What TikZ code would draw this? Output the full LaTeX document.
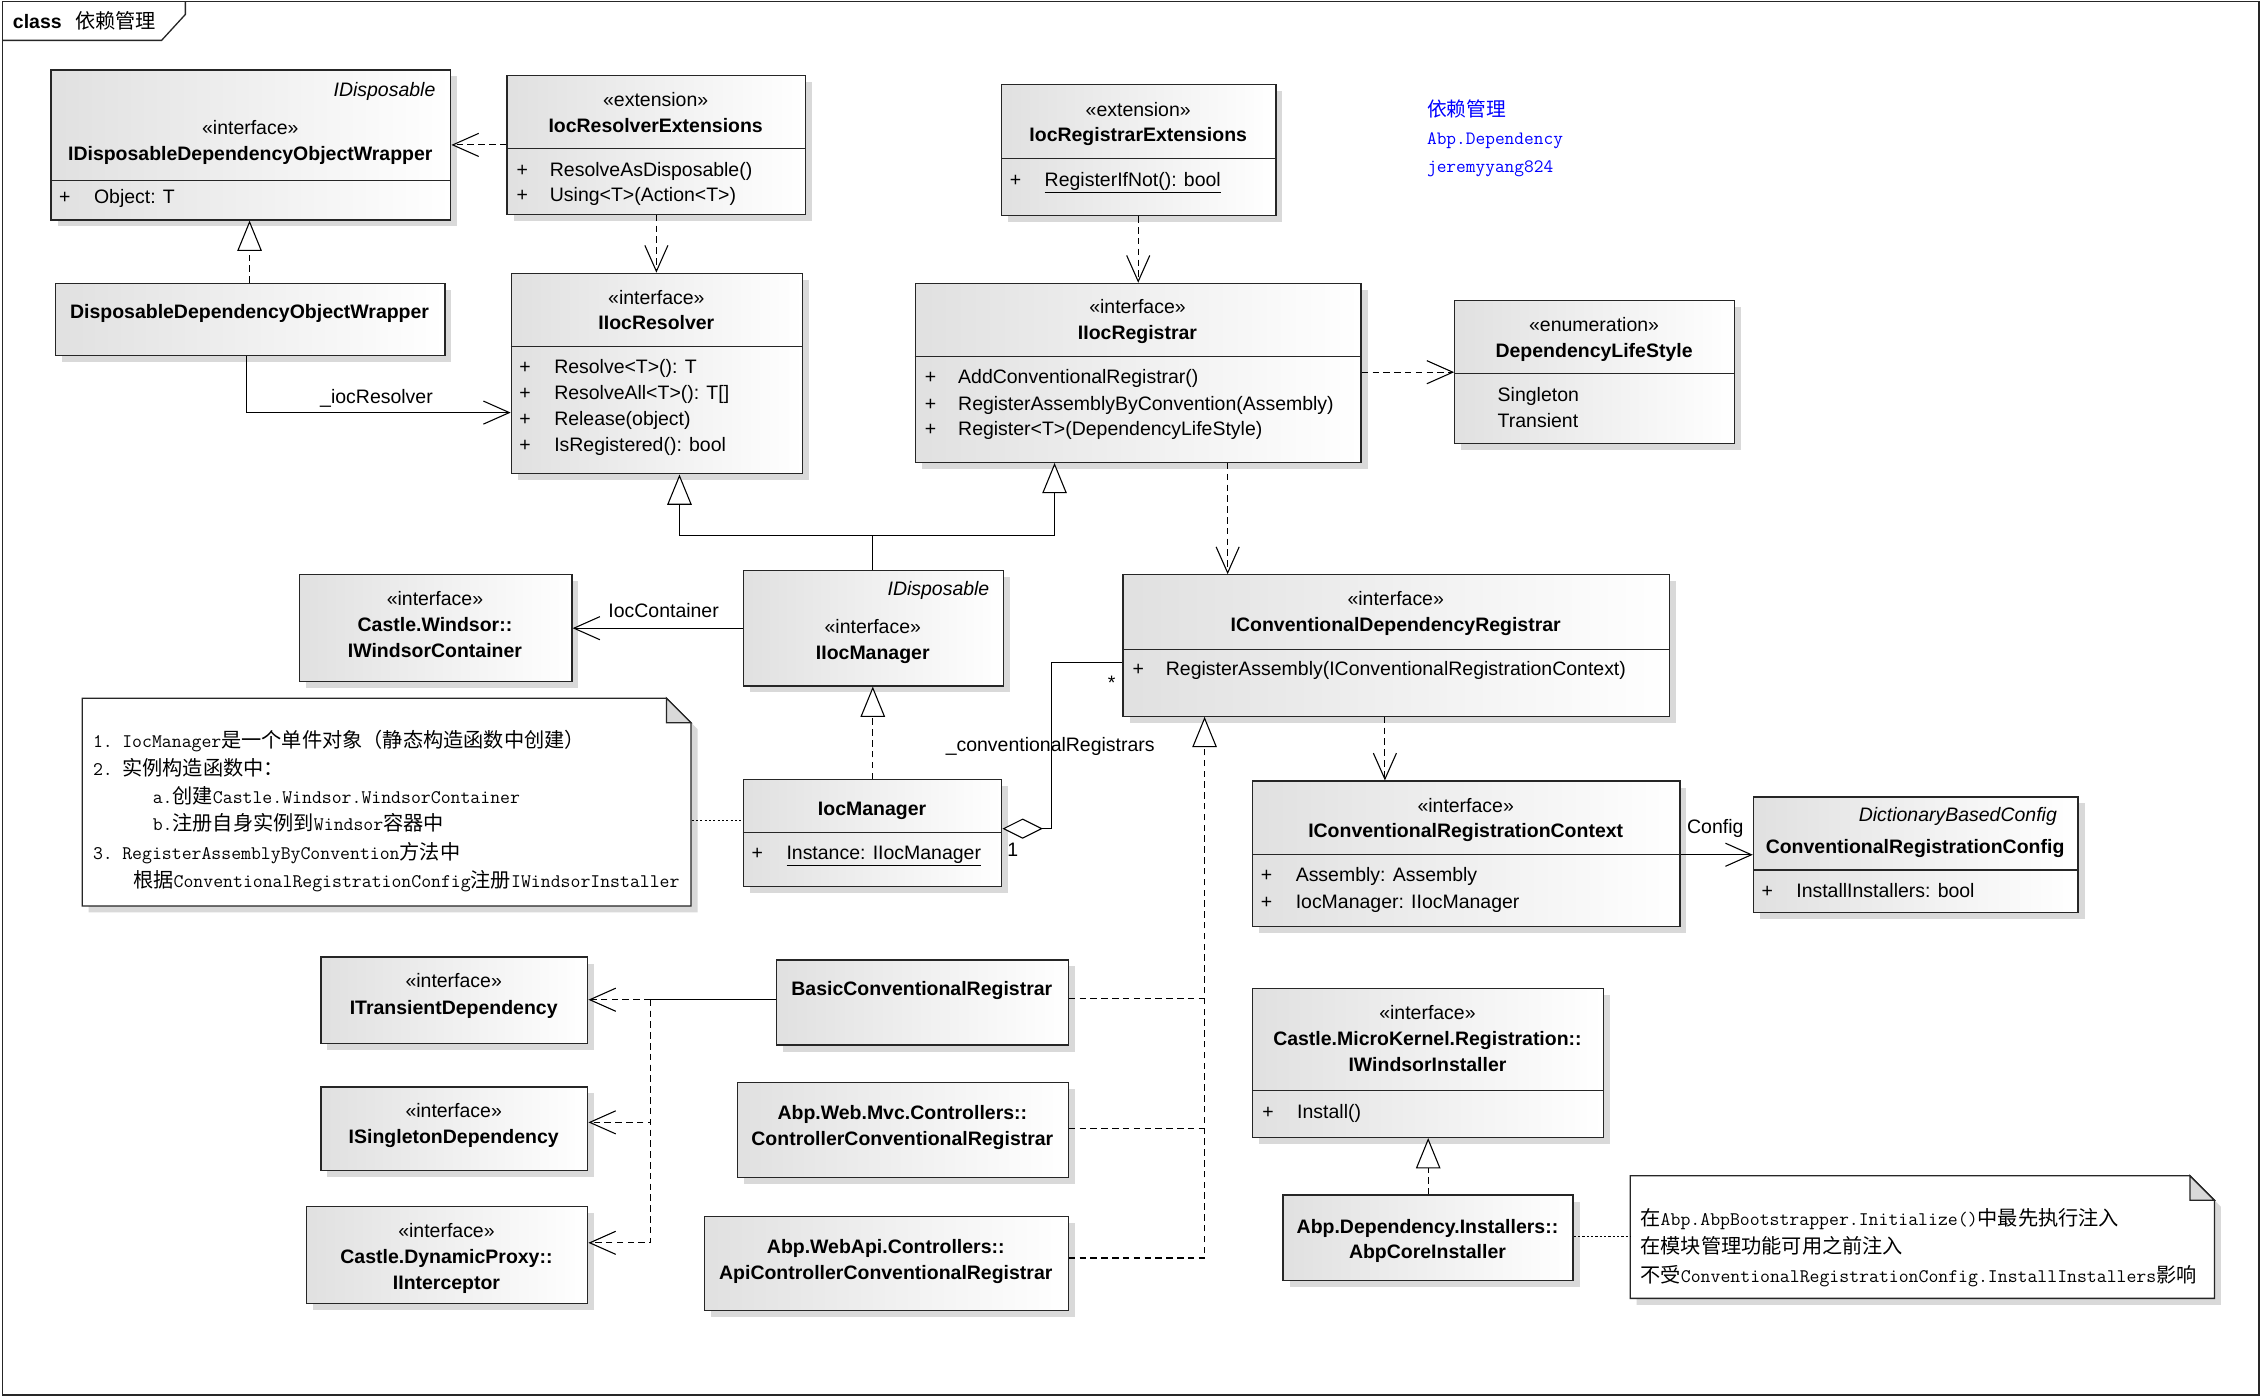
\documentclass[tikz,border=0pt]{standalone}
\usepackage{fontspec}
\setmainfont{Liberation Sans}
\newfontfamily\cjk{Noto Sans CJK SC}
\usetikzlibrary{arrows.meta,shadows}
\newcommand\fsz{\fontsize{13.5}{16}\selectfont}
\newcommand\nlat[1]{{\ttfamily\fontsize{13.33}{15}\selectfont #1}}
\newcommand\ncjk[1]{{\cjk\fontsize{14}{16}\selectfont #1}}
\newcommand\blat[1]{{\ttfamily\fontsize{13.07}{15}\selectfont #1}}
\newcommand\bcjk[1]{{\cjk\fontsize{13.7}{16}\selectfont #1}}
\newcounter{txtn}
\newcommand\ttx[4][]{\stepcounter{txtn}\node[txt,#1] (txt\arabic{txtn}) at (#2,#3) {#4};}
\newcommand\stereo[3]{\ttx{#1}{#2}{«#3»}}
\newcommand\cname[3]{\ttx[bld]{#1}{#2}{#3}}
\newcommand\oper[4]{\ttx{#1}{#4}{+}\ttx[lft]{#2}{#4}{#3}}
\newcommand\cbox[5]{\node[cbox,minimum width=#4pt,minimum height=#5pt] (#1) at (#2,#3) {};}
\newcommand\divider[2]{\draw[boxln] (#1.west |- 0,#2) -- (#1.east |- 0,#2);}
\begin{document}
\begin{tikzpicture}[x=1pt,y=-1pt,
 txt/.style={anchor=base,inner sep=0pt,font=\fsz},
 bld/.style={font=\fsz\bfseries},
 lft/.style={anchor=base west},
 rgt/.style={anchor=base east,font=\fsz\itshape},
 boxln/.style={draw=black!85,line width=0.9pt},
 cbox/.style={boxln,anchor=north west,inner sep=0pt,left color=black!12,right color=white,
   drop shadow={shadow xshift=4.5pt,shadow yshift=-4.5pt,fill=black!15,opacity=1}},
 con/.style={draw=black,line width=0.75pt},
 dsh/.style={con,dash pattern=on 4.5pt off 3pt},
 dotl/.style={con,dash pattern=on 1.5pt off 1.5pt},
 opn/.style={-{Straight Barb[length=18pt,width=16pt]}},
 tri/.style={-{Triangle[open,length=21pt,width=17pt,fill=white]}},
 dia/.style={{Diamond[open,length=28pt,width=14pt,fill=white]}-},
]
\useasboundingbox (0,0) rectangle (1568,969);
\fill[white] (0,0) rectangle (1568,969);
% frame
\draw[boxln] (1.5,1) rectangle (1566,967);
\draw[boxln] (1.5,28) -- (112,28) -- (128.5,10) -- (128.5,1);
\node[anchor=base west,inner sep=0pt,font=\fsz\bfseries] (title1) at (8.8,19.5) {class};
\node[anchor=base west,inner sep=0pt] (title2) at (52,19.5) {\ncjk{依赖管理}};

% blue text
\node[anchor=base west,inner sep=0pt,text=blue] (blue1) at (989,81) {\bcjk{依赖管理}};
\node[anchor=base west,inner sep=0pt,text=blue] (blue2) at (989,100.5) {\blat{Abp.Dependency}};
\node[anchor=base west,inner sep=0pt,text=blue] (blue3) at (989,119.5) {\blat{jeremyyang824}};

% boxes
\cbox{A}{35}{48}{277}{104}
\cbox{B}{351}{52}{207}{96}
\cbox{C}{694}{58}{190}{91}
\cbox{D}{634}{196}{309}{124}
\cbox{E}{1008}{208}{194}{99}
\cbox{F}{38}{196}{270}{50}
\cbox{G}{354}{189}{202}{139}
\cbox{H}{207}{398}{189}{74}
\cbox{I}{515}{395}{180}{80}
\cbox{J}{515}{540}{179}{74}
\cbox{K}{778}{398}{379}{98}
\cbox{L}{868}{541}{296}{101}
\cbox{M}{1215}{552}{225}{80}
\cbox{N}{222}{663}{185}{60}
\cbox{O}{222}{753}{185}{58}
\cbox{P}{212}{836}{195}{67}
\cbox{Q}{538}{665}{202}{59}
\cbox{R}{511}{750}{229}{66}
\cbox{S}{488}{843}{252}{65}
\cbox{T}{868}{685}{243}{103}
\cbox{U}{889}{828}{201}{59}
\divider{A}{125}
\divider{B}{103}
\divider{C}{110}
\divider{D}{247}
\divider{E}{259}
\divider{G}{240}
\divider{J}{577}
\divider{K}{450}
\divider{L}{592.5}
\divider{M}{603}
\divider{T}{756}

% notes
\fill[black!15] (61.5,488.5) -- (466.5,488.5) -- (483.5,505.5) -- (483.5,632.5) -- (61.5,632.5) -- cycle;
\filldraw[boxln,fill=white] (57,484) -- (462,484) -- (479,501) -- (479,628) -- (57,628) -- cycle;
\filldraw[boxln,fill=black!15] (462,484) -- (462,501) -- (479,501) -- cycle;
\node[inner sep=0pt,minimum width=422pt,minimum height=144pt,anchor=north west] (note1) at (57,484) {};
\fill[black!15] (1134.5,819.5) -- (1522.5,819.5) -- (1539.5,836.5) -- (1539.5,904.5) -- (1134.5,904.5) -- cycle;
\filldraw[boxln,fill=white] (1130,815) -- (1518,815) -- (1535,832) -- (1535,900) -- (1130,900) -- cycle;
\filldraw[boxln,fill=black!15] (1518,815) -- (1518,832) -- (1535,832) -- cycle;
\node[inner sep=0pt,minimum width=405pt,minimum height=85pt,anchor=north west] (note2) at (1130,815) {};

% connectors
\draw[dsh,opn] (B.west) -- (A.east);
\draw[dsh,tri] (173,0 |- F.north) -- (173,0 |- A.south);
\draw[con,opn] (171,0 |- F.south) |- (G.west |- 0,286);
\draw[dsh,opn] (455,0 |- B.south) -- (455,0 |- G.north);
\draw[dsh,opn] (789,0 |- C.south) -- (789,0 |- D.north);
\draw[dsh,opn] (D.east |- 0,258) -- (E.west |- 0,258);
\coordinate (jI) at (605,371);
\draw[con,tri] (605,0 |- I.north) -- (jI) -| (471,0 |- G.south);
\draw[con,tri] (jI) -| (731,0 |- D.south);
\draw[con,opn] (I.west) -- (H.east);
\draw[dsh,tri] (605,0 |- J.north) -- (605,0 |- I.south);
\draw[con,dia] (J.east |- 0,574.4) -- (729,574.4) |- (K.west |- 0,459);
\draw[dsh,opn] (851,0 |- D.south) -- (851,0 |- K.north);
\draw[dsh,opn] (960,0 |- K.south) -- (960,0 |- L.north);
\draw[con,opn] (L.east |- 0,592.5) -- (M.west |- 0,592.5);
\coordinate (jK) at (835,872);
\draw[dsh,tri] (S.east |- jK) -- (jK) -- (835,0 |- K.south);
\draw[dsh] (Q.east |- 0,692) -- (835,692);
\draw[dsh] (R.east |- 0,782) -- (835,782);
\coordinate (jQ) at (451,693);
\draw[con] (Q.west |- jQ) -- (jQ);
\draw[dsh,opn] (jQ) -- (N.east |- jQ);
\draw[dsh,opn] (jQ) |- (O.east |- 0,778);
\draw[dsh,opn] (jQ) |- (P.east |- 0,861.5);
\draw[dsh,tri] (990,0 |- U.north) -- (990,0 |- T.south);
\draw[dotl] (U.east |- 0,857) -- (note2.west |- 0,857);
\draw[dotl] (note1.east |- 0,568.6) -- (J.west |- 0,568.6);

% connector labels
\ttx{261}{279.5}{\_iocResolver}
\ttx{460}{428}{IocContainer}
\ttx{728}{521}{\_conventionalRegistrars}
\ttx{770.5}{478}{*}
\ttx{702}{594}{1}
\ttx{1189}{578}{Config}

% box texts
\ttx[rgt]{302}{67}{IDisposable}
\stereo{173.5}{93}{interface}
\cname{173.5}{111}{IDisposableDependencyObjectWrapper}
\oper{45}{65}{Object: T}{141}

\stereo{454.5}{74}{extension}
\cname{454.5}{92}{IocResolverExtensions}
\oper{362}{381}{ResolveAsDisposable()}{122}
\oper{362}{381}{Using<T>(Action<T>)}{140}

\stereo{789}{80.5}{extension}
\cname{789}{98}{IocRegistrarExtensions}
\oper{704}{724}{\underline{RegisterIfNot(): bool}}{129}

\stereo{788.5}{217}{interface}
\cname{788.5}{235}{IIocRegistrar}
\oper{645}{664}{AddConventionalRegistrar()}{266}
\oper{645}{664}{RegisterAssemblyByConvention(Assembly)}{284.4}
\oper{645}{664}{Register<T>(DependencyLifeStyle)}{302}

\stereo{1105}{229.7}{enumeration}
\cname{1105}{247.6}{DependencyLifeStyle}
\ttx[lft]{1038}{278}{Singleton}
\ttx[lft]{1038}{296}{Transient}

\cname{173}{221}{DisposableDependencyObjectWrapper}

\stereo{455}{211}{interface}
\cname{455}{228.5}{IIocResolver}
\oper{364}{384}{Resolve<T>(): T}{258.7}
\oper{364}{384}{ResolveAll<T>(): T[]}{277}
\oper{364}{384}{Release(object)}{295}
\oper{364}{384}{IsRegistered(): bool}{313}

\stereo{301.5}{420}{interface}
\cname{301.5}{438}{Castle.Windsor::}
\cname{301.5}{456}{IWindsorContainer}

\ttx[rgt]{686}{413}{IDisposable}
\stereo{605}{439}{interface}
\cname{605}{457.4}{IIocManager}

\cname{604.5}{565.6}{IocManager}
\oper{525}{545}{\underline{Instance: IIocManager}}{595.6}

\stereo{967.5}{420}{interface}
\cname{967.5}{438}{IConventionalDependencyRegistrar}
\oper{789}{808}{RegisterAssembly(IConventionalRegistrationContext)}{468.5}

\stereo{1016}{563}{interface}
\cname{1016}{580.6}{IConventionalRegistrationContext}
\oper{878}{898}{Assembly: Assembly}{611}
\oper{878}{898}{IocManager: IIocManager}{629.6}

\ttx[rgt]{1426}{569.5}{DictionaryBasedConfig}
\cname{1327.5}{591.7}{ConventionalRegistrationConfig}
\oper{1225}{1245}{InstallInstallers: bool}{622.2}

\stereo{314.5}{684.6}{interface}
\cname{314.5}{703}{ITransientDependency}

\stereo{314.5}{774.7}{interface}
\cname{314.5}{792.7}{ISingletonDependency}

\stereo{309.5}{858}{interface}
\cname{309.5}{876}{Castle.DynamicProxy::}
\cname{309.5}{894}{IInterceptor}

\cname{639}{690.3}{BasicConventionalRegistrar}

\cname{625.5}{776.3}{Abp.Web.Mvc.Controllers::}
\cname{625.5}{794}{ControllerConventionalRegistrar}

\cname{614}{869}{Abp.WebApi.Controllers::}
\cname{614}{886.7}{ApiControllerConventionalRegistrar}

\stereo{989.5}{707}{interface}
\cname{989.5}{724.7}{Castle.MicroKernel.Registration::}
\cname{989.5}{742.8}{IWindsorInstaller}
\oper{879}{899}{Install()}{775.6}

\cname{989.5}{855.3}{Abp.Dependency.Installers::}
\cname{989.5}{872.7}{AbpCoreInstaller}

% note 1 text
\ttx[lft]{64.3}{518.4}{\nlat{1.}}
\ttx[lft]{84.6}{518.4}{\nlat{IocManager}\ncjk{是一个单件对象（静态构造函数中创建）}}
\ttx[lft]{64.3}{537.3}{\nlat{2.}}
\ttx[lft]{84.6}{537.3}{\ncjk{实例构造函数中：}}
\ttx[lft]{105.7}{556.7}{\nlat{a.}\ncjk{创建}\nlat{Castle.Windsor.WindsorContainer}}
\ttx[lft]{105.7}{576}{\nlat{b.}\ncjk{注册自身实例到}\nlat{Windsor}\ncjk{容器中}}
\ttx[lft]{64.3}{595.8}{\nlat{3.}}
\ttx[lft]{84.6}{595.8}{\nlat{RegisterAssemblyByConvention}\ncjk{方法中}}
\ttx[lft]{92.2}{615}{\ncjk{根据}\nlat{ConventionalRegistrationConfig}\ncjk{注册}\nlat{IWindsorInstaller}}

% note 2 text
\ttx[lft]{1137}{849.5}{\ncjk{在}\nlat{Abp.AbpBootstrapper.Initialize()}\ncjk{中最先执行注入}}
\ttx[lft]{1137}{869}{\ncjk{在模块管理功能可用之前注入}}
\ttx[lft]{1137}{888.7}{\ncjk{不受}\nlat{ConventionalRegistrationConfig.InstallInstallers}\ncjk{影响}}
\end{tikzpicture}
\end{document}
